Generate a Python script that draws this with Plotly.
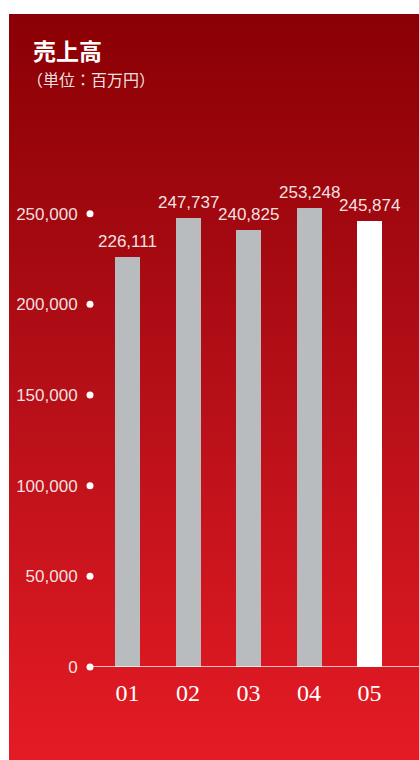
import base64
import plotly.graph_objects as go

# Sales figures (million yen) by fiscal period
periods = ["01", "02", "03", "04", "05"]
sales = [226111, 247737, 240825, 253248, 245874]
tick_values = [0, 50000, 100000, 150000, 200000, 250000]
tick_labels = ["0", "50,000", "100,000", "150,000", "200,000", "250,000"]
bar_colors = ["#b9bcbe", "#b9bcbe", "#b9bcbe", "#b9bcbe", "#ffffff"]

W, H = 419, 760
X_LEFT = -0.62  # axis left edge in category units


def px_x(p):
    return p / W


def px_y(p):
    return 1 - p / H


xs = list(range(len(periods)))

fig = go.Figure()

fig.add_trace(go.Bar(
    x=xs, y=sales, marker=dict(color=bar_colors, line=dict(width=0)),
    width=0.413, hoverinfo="skip", showlegend=False,
))

# White dots at each y tick on the axis edge
fig.add_trace(go.Scatter(
    x=[X_LEFT] * len(tick_values), y=tick_values, mode="markers",
    marker=dict(color="white", size=7, line=dict(width=0)),
    cliponaxis=False, hoverinfo="skip", showlegend=False,
))

# Red vertical gradient panel as an SVG background image
svg = (
    '<svg xmlns="http://www.w3.org/2000/svg" width="410" height="746" '
    'preserveAspectRatio="none" viewBox="0 0 410 746">'
    '<defs><linearGradient id="g" x1="0" y1="0" x2="0" y2="1">'
    '<stop offset="0" stop-color="#8a0004"/>'
    '<stop offset="0.5" stop-color="#b50f18"/>'
    '<stop offset="1" stop-color="#e51b24"/>'
    '</linearGradient></defs>'
    '<rect width="410" height="746" fill="url(#g)"/></svg>'
)
src = "data:image/svg+xml;base64," + base64.b64encode(svg.encode()).decode()

shapes = [dict(
    type="line", xref="paper", yref="y", x0=px_x(90), x1=1, y0=0, y1=0,
    line=dict(color="rgba(255,255,255,0.95)", width=1.5), layer="above",
)]

annotations = [
    dict(text="<b>売上高</b>", xref="paper", yref="paper", x=px_x(31), y=px_y(31),
         xanchor="left", yanchor="top", showarrow=False,
         font=dict(family="Noto Sans CJK JP", size=23, color="white")),
    dict(text="（単位：百万円）", xref="paper", yref="paper", x=px_x(25), y=px_y(65),
         xanchor="left", yanchor="top", showarrow=False,
         font=dict(family="Noto Sans CJK JP", size=16, color="rgba(255,255,255,0.9)")),
]
for i, v in zip(xs, sales):
    annotations.append(dict(
        text=f"{v:,}", x=i, y=v, xref="x", yref="y", xanchor="center", yanchor="bottom",
        yshift=4, showarrow=False,
        font=dict(family="Liberation Sans", size=17, color="rgba(255,255,255,0.9)"),
    ))

fig.update_layout(
    template="none",
    width=W, height=H, margin=dict(l=0, r=0, t=0, b=0, autoexpand=False),
    paper_bgcolor="white", plot_bgcolor="rgba(0,0,0,0)",
    shapes=shapes, annotations=annotations, bargap=0,
    images=[dict(
        source=src, xref="paper", yref="paper", x=px_x(9), y=px_y(14),
        sizex=1 - px_x(9), sizey=px_y(14), xanchor="left", yanchor="top",
        sizing="stretch", layer="below",
    )],
    xaxis=dict(
        domain=[px_x(90), 1], range=[X_LEFT, 4.818], automargin=False,
        tickvals=xs, ticktext=periods,
        showgrid=False, zeroline=False, showline=False,
        ticks="outside", ticklen=4, tickcolor="rgba(0,0,0,0)",
        tickfont=dict(family="Liberation Serif", size=24, color="white"),
        fixedrange=True,
    ),
    yaxis=dict(
        domain=[px_y(667), px_y(150)], range=[0, 285130], automargin=False,
        tickvals=tick_values, ticktext=tick_labels,
        showgrid=False, zeroline=False, showline=False,
        ticks="outside", ticklen=8, tickcolor="rgba(0,0,0,0)",
        tickfont=dict(family="Liberation Sans", size=17, color="rgba(255,255,255,0.88)"),
        fixedrange=True,
    ),
)

fig.write_html("out.html")
